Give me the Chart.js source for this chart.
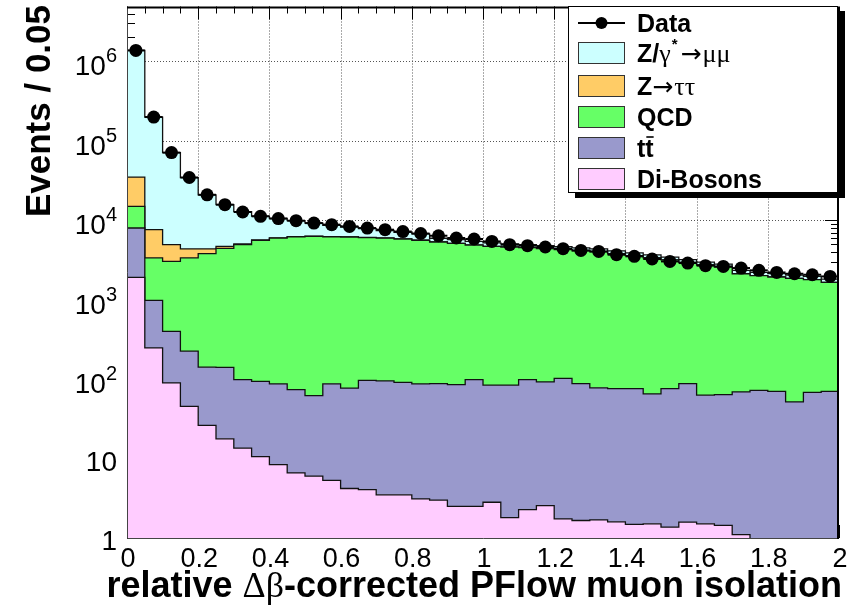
<!DOCTYPE html>
<html>
<head>
<meta charset="utf-8">
<script src="https://cdn.jsdelivr.net/npm/chart.js@4.4.0/dist/chart.umd.min.js"></script>
<style>
  html, body { margin: 0; padding: 0; background: #fff; }
  #wrap { width: 850px; height: 611px; }
</style>
</head>
<body>
<div id="wrap"><canvas id="isoChart" width="850" height="611"></canvas></div>
<script>
// 40 bins of 0.05 in relative isolation
const binEdges = [0, 0.05, 0.1, 0.15, 0.2, 0.25, 0.3, 0.35, 0.4, 0.45,
  0.5, 0.55, 0.6, 0.65, 0.7, 0.75, 0.8, 0.85, 0.9, 0.95,
  1.0, 1.05, 1.1, 1.15, 1.2, 1.25, 1.3, 1.35, 1.4, 1.45,
  1.5, 1.55, 1.6, 1.65, 1.7, 1.75, 1.8, 1.85, 1.9, 1.95, 2.0];
const binWidth = 0.05;

const dataCounts = [1370000, 199000, 71000, 34500, 20900, 15700, 12700, 11200, 10500, 9860,
  9200, 8800, 8360, 7970, 7600, 7200, 6800, 6380, 5970, 5800,
  5410, 4920, 4780, 4600, 4380, 4170, 4050, 3680, 3510, 3250,
  3030, 2890, 2680, 2620, 2500, 2340, 2200, 2120, 2060, 1960];

const zMuMu = [1335000, 191000, 66000, 30000, 16500, 11000, 7800, 5600, 4500, 3700,
  2900, 2400, 2050, 1750, 1450, 1200, 1100, 600, 560, 520,
  480, 440, 420, 400, 380, 360, 340, 320, 300, 280,
  260, 250, 230, 220, 210, 200, 190, 180, 170, 160];

const zTauTau = [20000, 4250, 1890, 1000, 560, 260, 110, 60, 45, 38,
  32, 28, 25, 22, 20, 18, 16, 15, 14, 13,
  12, 11, 10, 10, 9, 9, 8, 8, 7, 7,
  6, 6, 6, 5, 5, 5, 4, 4, 4, 4];

const qcd = [6920, 2370, 2630, 3130, 3650, 4280, 4820, 5480, 5880, 6080,
  6200, 6110, 6070, 5950, 5855, 5710, 5510, 5230, 5025, 4770,
  4600, 4515, 4410, 4290, 4160, 4040, 3930, 3710, 3500, 3305,
  3085, 2850, 2670, 2515, 2050, 1930, 1860, 1800, 1720, 1580];

const ttbar = [6070, 733, 309, 179, 115, 123, 85, 83, 78.5, 67,
  56, 82, 73, 92.5, 91.4, 87.7, 83.8, 84.8, 82.8, 96,
  81, 82, 96, 89.6, 100.7, 86, 76, 74.4, 74.5, 63.5,
  74.6, 86.2, 61.2, 62.4, 67.9, 71.3, 69.3, 50.7, 67.2, 69.3];

const diBosons = [1910, 247, 89.6, 45.5, 26.2, 17.7, 13.5, 10.6, 8.4, 6.6,
  6.0, 5.3, 4.2, 4.07, 3.5, 3.5, 3.1, 3.0, 2.5, 2.5,
  2.82, 1.8, 2.28, 2.56, 1.74, 1.66, 1.69, 1.6, 1.48, 1.51,
  1.37, 1.58, 1.51, 1.44, 1.1, 0.95, 0.95, 0.95, 0.95, 0.95];

const xTickValues = [0, 0.2, 0.4, 0.6, 0.8, 1, 1.2, 1.4, 1.6, 1.8, 2];
const xTickLabels = ['0', '0.2', '0.4', '0.6', '0.8', '1', '1.2', '1.4', '1.6', '1.8', '2'];
const yTickValues = [1, 10, 100, 1000, 10000, 100000, 1000000];
const yTickLabels = [['1', ''], ['10', ''], ['10', '2'], ['10', '3'], ['10', '4'], ['10', '5'], ['10', '6']];

const colors = {
  zmumu: '#ccffff',
  ztautau: '#ffcc66',
  qcd: '#66ff66',
  ttbar: '#9999cc',
  dibosons: '#ffccff'
};

const SANS = '"Liberation Sans", Arial, Helvetica, sans-serif';
const GREEK = '"Liberation Serif", "Times New Roman", serif';
const ARROW = '"DejaVu Sans", sans-serif';

// histogram outline: one point per left edge, last value repeated at x = 2
function stepPoints(values) {
  const pts = values.map((v, i) => ({ x: binEdges[i], y: v }));
  pts.push({ x: binEdges[binEdges.length - 1], y: values[values.length - 1] });
  return pts;
}

function layer(label, values, color, fill) {
  return {
    label: label,
    data: stepPoints(values),
    stepped: 'before',
    borderColor: '#111',
    borderWidth: 1.3,
    backgroundColor: color,
    fill: fill,
    pointRadius: 0,
    stack: 'mc'
  };
}

const dataPoints = dataCounts.map((v, i) => ({ x: binEdges[i] + binWidth / 2, y: v }));

// draws text pieces with different fonts one after another
function drawRuns(ctx, runs, x, y) {
  let cx = x;
  runs.forEach(r => {
    ctx.font = r.font;
    ctx.fillText(r.text, cx, y + (r.dy || 0));
    cx += ctx.measureText(r.text).width + (r.gap || 0);
  });
  return cx;
}
function runsWidth(ctx, runs) {
  let w = 0;
  runs.forEach(r => { ctx.font = r.font; w += ctx.measureText(r.text).width + (r.gap || 0); });
  return w;
}

const rootStyle = {
  id: 'rootStyle',
  beforeDatasetsDraw(chart) {
    const { ctx, chartArea: a, scales: { x, y } } = chart;
    ctx.save();
    // dotted grid
    ctx.strokeStyle = '#555';
    ctx.lineWidth = 1;
    ctx.setLineDash([1, 2]);
    xTickValues.slice(1, -1).forEach(v => {
      const px = Math.round(x.getPixelForValue(v)) + 0.5;
      ctx.beginPath(); ctx.moveTo(px, a.top); ctx.lineTo(px, a.bottom); ctx.stroke();
    });
    yTickValues.slice(1).forEach(v => {
      const py = Math.round(y.getPixelForValue(v)) + 0.5;
      ctx.beginPath(); ctx.moveTo(a.left, py); ctx.lineTo(a.right, py); ctx.stroke();
    });
    ctx.setLineDash([]);
    // inward ticks on all four sides
    ctx.strokeStyle = '#000';
    for (let i = 0; i < binEdges.length; i++) {
      const v = binEdges[i];
      const major = xTickValues.some(t => Math.abs(t - v) < 1e-9);
      const len = major ? 13 : 7;
      const px = Math.round(x.getPixelForValue(v)) + 0.5;
      ctx.beginPath();
      ctx.moveTo(px, a.top); ctx.lineTo(px, a.top + len);
      ctx.moveTo(px, a.bottom); ctx.lineTo(px, a.bottom - len);
      ctx.stroke();
    }
    for (let d = 0; d < 7; d++) {
      for (let m = 1; m <= 9; m++) {
        const v = m * Math.pow(10, d);
        if (v > y.max) break;
        const len = m === 1 ? 14 : 8;
        const py = Math.round(y.getPixelForValue(v)) + 0.5;
        ctx.beginPath();
        ctx.moveTo(a.left, py); ctx.lineTo(a.left + len, py);
        ctx.moveTo(a.right, py); ctx.lineTo(a.right - len, py);
        ctx.stroke();
      }
    }
    ctx.restore();
  },
  afterDatasetsDraw(chart) {
    const { ctx, chartArea: a, scales: { x, y } } = chart;
    ctx.save();

    // horizontal bars on the data points
    ctx.strokeStyle = '#000';
    ctx.lineWidth = 2;
    dataCounts.forEach((v, i) => {
      const py = y.getPixelForValue(v);
      ctx.beginPath();
      ctx.moveTo(x.getPixelForValue(binEdges[i]), py);
      ctx.lineTo(x.getPixelForValue(binEdges[i + 1]), py);
      ctx.stroke();
    });

    // frame
    ctx.lineWidth = 1;
    ctx.strokeStyle = '#444';
    ctx.beginPath();
    ctx.moveTo(a.left + 0.5, a.top); ctx.lineTo(a.left + 0.5, a.bottom + 0.5); ctx.lineTo(a.right, a.bottom + 0.5);
    ctx.stroke();
    ctx.strokeStyle = '#000';
    ctx.lineWidth = 2;
    ctx.beginPath();
    ctx.moveTo(a.left, a.top + 1); ctx.lineTo(a.right - 1, a.top + 1); ctx.lineTo(a.right - 1, a.bottom + 1);
    ctx.stroke();

    // tick labels
    ctx.fillStyle = '#000';
    ctx.textBaseline = 'alphabetic';
    ctx.font = '27px ' + SANS;
    ctx.textAlign = 'center';
    xTickValues.forEach((v, i) => {
      ctx.fillText(xTickLabels[i], x.getPixelForValue(v) + 1, 567);
    });
    ctx.textAlign = 'left';
    yTickValues.forEach((v, i) => {
      const py = y.getPixelForValue(v);
      const [base, exp] = yTickLabels[i];
      const right = 117;
      if (exp) {
        ctx.font = '20px ' + SANS;
        const ew = ctx.measureText(exp).width;
        ctx.fillText(exp, right - ew, py + 1);
        ctx.font = '28px ' + SANS;
        const bw = ctx.measureText(base).width;
        ctx.fillText(base, right - ew - bw, py + 14);
      } else {
        ctx.font = '28px ' + SANS;
        const bw = ctx.measureText(base).width;
        ctx.fillText(base, right - bw, py + 12);
      }
    });

    // axis titles
    const xTitle = [
      { text: 'relative ', font: 'bold 36px ' + SANS },
      { text: '\u0394\u03b2', font: '36px ' + GREEK },
      { text: '-corrected PFlow muon isolation', font: 'bold 36px ' + SANS }
    ];
    drawRuns(ctx, xTitle, 842 - runsWidth(ctx, xTitle), 597);

    ctx.save();
    ctx.translate(50, 5);
    ctx.rotate(-Math.PI / 2);
    ctx.textAlign = 'right';
    ctx.font = 'bold 35px ' + SANS;
    ctx.fillText('Events / 0.05', 0, 0);
    ctx.restore();

    // legend box with drop shadow
    const L = { x0: 568, y0: 6, x1: 838, y1: 193 };
    ctx.fillStyle = '#000';
    ctx.fillRect(L.x0 + 7, L.y0 + 5, L.x1 - L.x0, L.y1 - L.y0);
    ctx.fillStyle = '#fff';
    ctx.fillRect(L.x0, L.y0, L.x1 - L.x0, L.y1 - L.y0);
    ctx.strokeStyle = '#000';
    ctx.lineWidth = 1;
    ctx.strokeRect(L.x0 + 0.5, L.y0 + 0.5, L.x1 - L.x0 - 1, L.y1 - L.y0 - 1);

    const boxX = 578, boxW = 47, textX = 637;
    const bold = 'bold 25px ' + SANS;
    const greek = '26px ' + GREEK;
    const arrow = '25px ' + ARROW;

    // Data entry
    ctx.strokeStyle = '#000';
    ctx.lineWidth = 2;
    ctx.beginPath(); ctx.moveTo(boxX, 23); ctx.lineTo(boxX + boxW, 23); ctx.stroke();
    ctx.fillStyle = '#000';
    ctx.beginPath(); ctx.arc(boxX + boxW / 2, 23, 6, 0, Math.PI * 2); ctx.fill();
    ctx.font = bold;
    ctx.fillText('Data', textX, 32);

    const entries = [
      { cy: 53, color: colors.zmumu, runs: [
        { text: 'Z/', font: bold },
        { text: '\u03b3', font: greek, gap: 1 },
        { text: '*', font: 'bold 15px ' + SANS, dy: -13, gap: 3 },
        { text: '\u2192', font: arrow, gap: 1 },
        { text: '\u03bc\u03bc', font: greek }
      ] },
      { cy: 86, color: colors.ztautau, runs: [
        { text: 'Z', font: bold },
        { text: '\u2192', font: arrow, gap: 1 },
        { text: '\u03c4\u03c4', font: greek }
      ] },
      { cy: 117, color: colors.qcd, runs: [{ text: 'QCD', font: bold }] },
      { cy: 148, color: colors.ttbar, runs: [{ text: 'tt', font: bold }], bar: true },
      { cy: 179, color: colors.dibosons, runs: [{ text: 'Di-Bosons', font: bold }] }
    ];
    entries.forEach(e => {
      ctx.fillStyle = e.color;
      ctx.fillRect(boxX, e.cy - 10.5, boxW, 21);
      ctx.strokeStyle = '#333';
      ctx.lineWidth = 1;
      ctx.strokeRect(boxX + 0.5, e.cy - 10.5, boxW - 1, 21);
      ctx.fillStyle = '#000';
      drawRuns(ctx, e.runs, textX, e.cy + 9);
      if (e.bar) {
        ctx.font = bold;
        const tw = ctx.measureText('t').width;
        ctx.lineWidth = 2;
        ctx.beginPath();
        ctx.moveTo(textX + tw + 1, e.cy - 11); ctx.lineTo(textX + 2 * tw, e.cy - 11);
        ctx.stroke();
      }
    });

    ctx.restore();
  }
};

new Chart(document.getElementById('isoChart'), {
  type: 'line',
  data: {
    datasets: [
      {
        label: 'Data',
        data: dataPoints,
        showLine: false,
        pointRadius: 6.5,
        pointHoverRadius: 6.5,
        pointBackgroundColor: '#000',
        pointBorderWidth: 0,
        stack: 'data'
      },
      layer('Di-Bosons', diBosons, colors.dibosons, 'start'),
      layer('tt', ttbar, colors.ttbar, '-1'),
      layer('QCD', qcd, colors.qcd, '-1'),
      layer('Z->tautau', zTauTau, colors.ztautau, '-1'),
      layer('Z/gamma*->mumu', zMuMu, colors.zmumu, '-1')
    ]
  },
  options: {
    responsive: false,
    animation: false,
    devicePixelRatio: 1,
    events: [],
    layout: { padding: { left: 127, top: 6, right: 11, bottom: 73 } },
    scales: {
      x: { type: 'linear', min: 0, max: 2, display: false },
      y: { type: 'logarithmic', min: 1, max: 4.9e6, stacked: true, display: false }
    },
    plugins: {
      legend: { display: false },
      tooltip: { enabled: false }
    }
  },
  plugins: [rootStyle]
});
</script>
</body>
</html>
